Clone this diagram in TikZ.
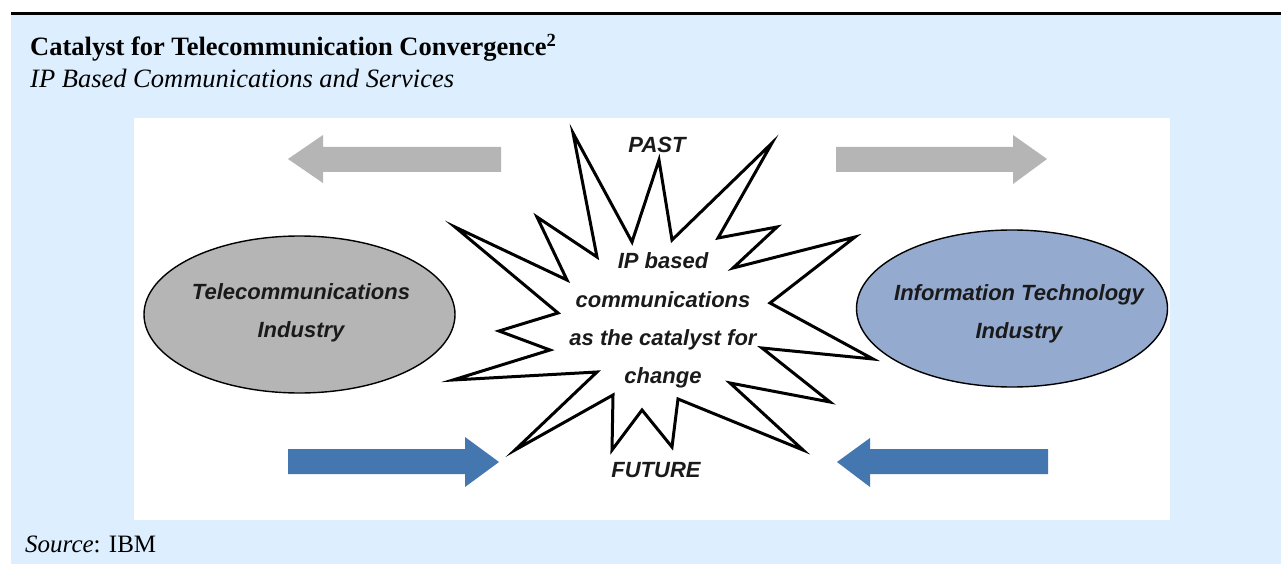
\documentclass[tikz,border=0pt]{standalone}
\usepackage{fontspec}
\usetikzlibrary{shapes.geometric}
\setmainfont{Liberation Serif}
\newfontfamily\diagfont{Liberation Sans}
\definecolor{bgblue}{HTML}{DDEFFE}
\definecolor{arrowgray}{HTML}{B4B5B4}
\definecolor{arrowblue}{HTML}{4477B0}
\definecolor{ellgray}{HTML}{B5B5B5}
\definecolor{ellblue}{HTML}{94AACF}
\definecolor{dtext}{HTML}{1A1A1A}
\begin{document}
\begin{tikzpicture}[x=1pt,y=-1pt,
  doctext/.style={inner sep=0pt,anchor=base west,font=\fontsize{25}{30}\selectfont},
  headtext/.style={doctext,font=\fontsize{26.5}{30}\selectfont},
  dlabel/.style={inner sep=0pt,text=dtext,align=center,font=\diagfont\bfseries\itshape\fontsize{22}{38}\selectfont},
  industry/.style={ellipse,draw=black,line width=1.4pt,minimum width=311pt,minimum height=157pt,inner sep=0pt}]
\useasboundingbox (0,0) rectangle (1281,564);
\fill[white] (0,0) rectangle (1281,564);
\fill[bgblue] (11,15) rectangle (1281,564);
\fill[black] (11,12) rectangle (1281,15.5);
\fill[white] (134,118) rectangle (1170,520);
% texts of the box
\node[headtext] (title) at (30,56) {\bfseries Catalyst for Telecommunication Convergence\textsuperscript{2}};
\node[headtext] (subtitle) at (30,88) {\itshape IP Based Communications and Services};
\node[doctext] (source) at (25,552) {\textit{Source}: IBM};
% block arrows
\fill[arrowgray] (288,159) -- (323,135) -- (323,147) -- (501,147) -- (501,172) -- (323,172) -- (323,183) -- cycle;
\fill[arrowgray] (1047,159) -- (1013,135) -- (1013,147) -- (836,147) -- (836,172) -- (1013,172) -- (1013,184) -- cycle;
\fill[arrowblue] (499,462) -- (465,437) -- (465,449) -- (288,449) -- (288,474) -- (465,474) -- (465,487) -- cycle;
\fill[arrowblue] (837,462) -- (870,438) -- (870,449) -- (1048,449) -- (1048,474) -- (870,474) -- (870,487) -- cycle;
% ellipses
\node[industry,fill=ellgray] (tele) at (299.5,314.5) {};
\node[industry,fill=ellblue] (it) at (1012,308.5) {};
\node[dlabel] (teletext) at (301,313) {Telecommunications\\Industry};
\node[dlabel] (ittext) at (1019,313.5) {Information Technology\\Industry};
% starburst
\draw[line width=3pt,fill=white,line join=miter] (573,133) -- (632,242) -- (659,160) -- (672,240) -- (772,143) -- (718,238) -- (777,227) -- (733,268) -- (855,237) -- (770,303) -- (873,359) -- (762,348) -- (830,402) -- (730,383) -- (803,450) -- (678,399) -- (672,447) -- (642,410) -- (612,450) -- (613,395) -- (515,450) -- (597,372) -- (453,380) -- (550,350) -- (499,331) -- (558,313) -- (455,227) -- (567,280) -- (537,217) -- (597,257) -- cycle;
\node[dlabel,font=\diagfont\bfseries\itshape\fontsize{22}{38.3}\selectfont] (burst) at (663,320.5) {IP based\\communications\\as the catalyst for\\change};
\node[dlabel,anchor=base] (past) at (657,152.5) {PAST};
\node[dlabel,anchor=base] (future) at (656,477) {FUTURE};
\end{tikzpicture}
\end{document}
